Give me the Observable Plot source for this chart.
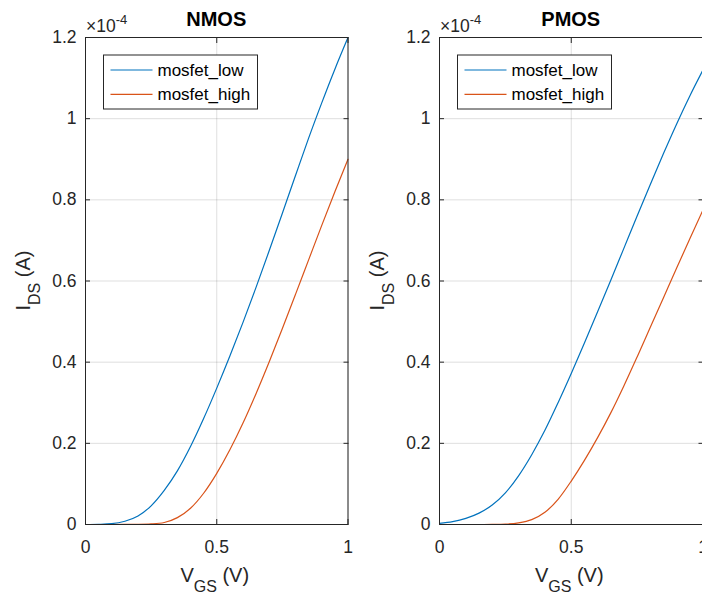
<!DOCTYPE html>
<html><head><meta charset="utf-8">
<script src="https://cdn.jsdelivr.net/npm/d3@7"></script>
<script src="https://cdn.jsdelivr.net/npm/@observablehq/plot@0.6"></script>
<style>
html,body{margin:0;padding:0;background:#fff;overflow:hidden;}
#wrap{position:relative;width:702px;height:596px;overflow:hidden;font-family:"Liberation Sans",Arial,sans-serif;}
.panel{position:absolute;top:0;}
.panel svg{max-width:none !important;}
</style></head><body><div id="wrap"></div>
<script>
// Gate-source voltage (V)
const vgs = [0,0.05,0.1,0.15,0.2,0.25,0.3,0.35,0.4,0.45,0.5,0.55,0.6,0.65,0.7,0.75,0.8,0.85,0.9,0.95,1];
// Drain current, in units of 1e-4 A
const nmosLow  = [0,0.0005,0.002,0.008,0.021,0.046,0.084,0.132,0.192,0.261,0.336,0.415,0.498,0.585,0.675,0.767,0.86,0.952,1.039,1.122,1.2];
const nmosHigh = [0,0,0,0.0001,0.0004,0.0015,0.005,0.017,0.04,0.077,0.126,0.184,0.25,0.323,0.401,0.483,0.567,0.652,0.737,0.82,0.9];
const pmosLow  = [0.003,0.007,0.015,0.028,0.048,0.078,0.12,0.172,0.232,0.3,0.372,0.447,0.524,0.602,0.681,0.76,0.838,0.914,0.987,1.056,1.12];
const pmosHigh = [0,0,0,0,0.0003,0.001,0.004,0.012,0.03,0.062,0.107,0.158,0.214,0.275,0.342,0.413,0.486,0.559,0.632,0.704,0.775];
const seriesNames = ["mosfet_low","mosfet_high"];
const seriesColors = ["#0072BD","#D95319"];
const panelTitles = ["NMOS","PMOS"];
const xTicks = [0,0.5,1];
const yTicks = [0,0.2,0.4,0.6,0.8,1,1.2];
const xLabel = ["V","GS"," (V)"];
const yLabel = ["I","DS"," (A)"];
const exponentLabel = ["\u00d710","-4"];

const INK = "#262626";
const FONT = "'Liberation Sans', Arial, sans-serif";

function rows(low, high) {
  const out = [];
  vgs.forEach((v, i) => out.push({vgs: v, ids: low[i], series: seriesNames[0]}));
  vgs.forEach((v, i) => out.push({vgs: v, ids: high[i], series: seriesNames[1]}));
  return out;
}

function panel(title, low, high, left, width, mL, mR) {
  const mT = 37, mB = 72, H = 596;
  const chart = Plot.plot({
    width, height: H,
    marginLeft: mL, marginRight: mR, marginTop: mT, marginBottom: mB,
    style: {fontFamily: FONT, fontSize: "17.5px", color: INK, background: "transparent", overflow: "visible", maxWidth: "none"},
    x: {domain: [0, 1]},
    y: {domain: [0, 1.2]},
    color: {domain: seriesNames, range: seriesColors},
    marks: [
      Plot.gridX(xTicks, {stroke: INK, strokeOpacity: 0.15, strokeWidth: 1}),
      Plot.gridY(yTicks, {stroke: INK, strokeOpacity: 0.15, strokeWidth: 1}),
      Plot.line(rows(low, high), {x: "vgs", y: "ids", z: "series", stroke: "series", strokeWidth: 1.2, curve: "monotone-x"}),
      Plot.frame({stroke: INK, strokeWidth: 1}),
      Plot.axisX(xTicks, {anchor: "bottom", tickSize: -5, tickPadding: 21, tickFormat: d => String(d), label: null, color: INK}),
      Plot.axisX(xTicks, {anchor: "top", tickSize: -5, tickFormat: () => "", label: null, color: INK}),
      Plot.axisY(yTicks, {anchor: "left", tickSize: -5, tickPadding: 14, tickFormat: d => String(d), label: null, color: INK}),
      Plot.axisY(yTicks, {anchor: "right", tickSize: -5, tickFormat: () => "", label: null, color: INK})
    ]
  });
  const div = document.createElement("div");
  div.className = "panel";
  div.style.left = left + "px";
  div.style.width = width + "px";
  div.appendChild(chart);
  document.getElementById("wrap").appendChild(div);

  const svg = d3.select(chart);
  const x0 = mL, x1 = width - mR, cx = (x0 + x1) / 2;
  // title
  svg.append("text").attr("x", cx).attr("y", 26).attr("text-anchor", "middle")
    .attr("font-family", FONT).attr("font-weight", "bold").attr("font-size", 20).attr("fill", "#000").text(title);
  // exponent
  const ex = svg.append("text").attr("x", x0 + 1).attr("y", 32).attr("text-anchor", "start")
    .attr("font-family", FONT).attr("fill", INK).attr("font-size", 17.5);
  ex.append("tspan").text(exponentLabel[0]);
  ex.append("tspan").attr("font-size", 13).attr("dy", -8).text(exponentLabel[1]);
  // x label
  const xl = svg.append("text").attr("x", cx - 1.5).attr("y", 582).attr("text-anchor", "middle")
    .attr("font-family", FONT).attr("fill", INK).attr("font-size", 20);
  xl.append("tspan").text(xLabel[0]);
  xl.append("tspan").attr("font-size", 16).attr("dy", 10).text(xLabel[1]);
  xl.append("tspan").attr("dy", -10).text(xLabel[2]);
  // y label
  const yl = svg.append("text").attr("transform", `translate(${x0 - 55},${(mT + H - mB) / 2}) rotate(-90)`)
    .attr("text-anchor", "middle").attr("font-family", FONT).attr("fill", INK).attr("font-size", 20);
  yl.append("tspan").text(yLabel[0]);
  yl.append("tspan").attr("font-size", 16).attr("dy", 10).text(yLabel[1]);
  yl.append("tspan").attr("dy", -10).text(yLabel[2]);
  // legend
  const lg = svg.append("g").attr("transform", `translate(${x0 + 18.5},55)`);
  lg.append("rect").attr("x", 0).attr("y", 0).attr("width", 154).attr("height", 54)
    .attr("fill", "#fff").attr("stroke", INK).attr("stroke-width", 1);
  seriesNames.forEach((name, i) => {
    const y = 15 + i * 24.3;
    lg.append("line").attr("x1", 7).attr("x2", 49).attr("y1", y).attr("y2", y)
      .attr("stroke", seriesColors[i]).attr("stroke-width", 1.2);
    lg.append("text").attr("x", 54).attr("y", y + 6).attr("text-anchor", "start").attr("font-family", FONT)
      .attr("font-size", 17).attr("fill", "#000").text(name);
  });
}

panel(panelTitles[0], nmosLow, nmosHigh, 0, 351, 85, 3.5);
panel(panelTitles[1], pmosLow, pmosHigh, 351, 360, 88, 8.5);
</script></body></html>
